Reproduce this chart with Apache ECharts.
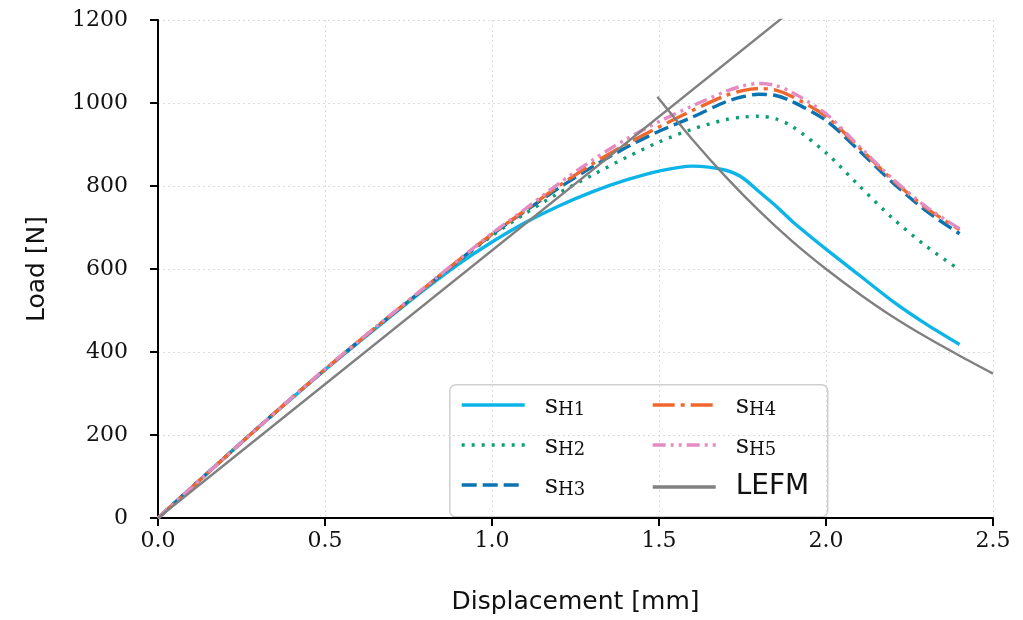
<!DOCTYPE html>
<html>
<head>
<meta charset="utf-8">
<script src="https://cdn.jsdelivr.net/npm/echarts@6/dist/echarts.min.js"></script>
<style>html,body{margin:0;padding:0;background:#fff;}#c{width:1023px;height:620px;}</style>
</head>
<body>
<div id="c"></div>
<script>
// ---- data ----
const xDisp = [0, 0.1, 0.2, 0.3, 0.4, 0.5, 0.6, 0.7, 0.8, 0.9, 1.0, 1.1, 1.2, 1.3, 1.4, 1.5, 1.6, 1.7, 1.75, 1.8, 1.85, 1.9, 2.0, 2.1, 2.2, 2.3, 2.4];
const sH1 = [0, 73, 146, 218, 288, 357, 423, 488, 552, 612, 665, 712, 752, 786, 814, 836, 848, 838, 820, 786, 752, 714, 648, 585, 522, 467, 418];
const sH2 = [0, 73, 146, 218, 289, 358, 425, 490, 555, 619, 680, 734, 783, 826, 868, 906, 937, 960, 966, 968, 962, 943, 880, 800, 722, 655, 598];
const sH3 = [0, 73, 146, 218, 289, 358, 425, 490, 555, 620, 683, 740, 795, 846, 892, 932, 966, 1003, 1015, 1021, 1018, 1003, 958, 885, 808, 740, 685];
const sH4 = [0, 73, 146, 218, 289, 358, 425, 491, 556, 621, 684, 742, 800, 853, 900, 942, 982, 1018, 1030, 1035, 1031, 1015, 968, 892, 814, 747, 695];
const sH5 = [0, 73, 146, 218, 289, 359, 426, 492, 557, 622, 686, 745, 806, 862, 912, 955, 993, 1028, 1041, 1047, 1042, 1025, 974, 895, 817, 750, 697];
const lefmLinX = [0, 1.9];
const lefmLinY = [0, 1225];
const lefmDecX = [1.495, 1.6, 1.7, 1.8, 1.9, 2.0, 2.1, 2.2, 2.3, 2.4, 2.5];
const lefmDecY = [1015, 912, 822, 740, 666, 600, 540, 485, 436, 391, 348];
const xTicks = [0, 0.5, 1.0, 1.5, 2.0, 2.5];
const yTicks = [0, 200, 400, 600, 800, 1000, 1200];

const names = ['sH1', 'sH2', 'sH3', 'sH4', 'sH5'];
const colors = ['#0db4e8', '#0c9e74', '#0b73b2', '#ef672c', '#e48cc2'];
const dashes = ['solid', [3, 7], [15, 6], [22, 6, 4, 6], [13, 5, 3, 5, 3, 5]];
const values = [sH1, sH2, sH3, sH4, sH5];
const pairs = (xs, ys) => xs.map((x, i) => [x, ys[i]]);

const serif = '"DejaVu Serif", serif';
const sans = '"DejaVu Sans", sans-serif';

const series = names.map((n, i) => ({
  name: n, type: 'line', data: pairs(xDisp, values[i]), smooth: 0.3,
  showSymbol: false, symbol: 'none', z: 2 + i,
  lineStyle: { color: colors[i], width: 3.4, type: dashes[i] },
  itemStyle: { color: colors[i] }
}));
series.push({
  name: 'LEFM', type: 'line', data: pairs(lefmLinX, lefmLinY), showSymbol: false, symbol: 'none', z: 10,
  lineStyle: { color: '#808080', width: 2.4 }, itemStyle: { color: '#808080' }
});
series.push({
  name: 'LEFM', type: 'line', data: pairs(lefmDecX, lefmDecY), smooth: 0.3, showSymbol: false, symbol: 'none', z: 10,
  lineStyle: { color: '#808080', width: 2.4 }, itemStyle: { color: '#808080' }
});

const legendText = {
  fontSize: 26,
  rich: {
    s: { fontFamily: serif, fontSize: 26, lineHeight: 28, verticalAlign: 'bottom', color: '#111' },
    sub: { fontFamily: serif, fontSize: 18, lineHeight: 12, verticalAlign: 'bottom', color: '#111' },
    l: { fontFamily: sans, fontSize: 28, lineHeight: 28, color: '#111' }
  },
  padding: [0, 0, 0, 15]
};
const fmt = n => n === 'LEFM' ? '{l|LEFM}' : '{s|s}{sub|' + n.slice(1) + '}';
const legendCommon = {
  orient: 'vertical', itemWidth: 63, itemHeight: 14, itemGap: 14, padding: 0,
  formatter: fmt, textStyle: legendText, backgroundColor: 'transparent',
  itemStyle: { opacity: 0, borderWidth: 0 },
  lineStyle: { width: 3.4 }
};

const chart = echarts.init(document.getElementById('c'), null, { renderer: 'canvas' });
chart.setOption({
  animation: false,
  backgroundColor: '#fff',
  grid: { left: 158, right: 30, top: 20, bottom: 99, containLabel: false },
  xAxis: {
    type: 'value', min: 0, max: 2.5, interval: 0.5,
    name: 'Displacement [mm]', nameLocation: 'middle', nameGap: 72,
    nameTextStyle: { fontFamily: sans, fontSize: 25, color: '#111' },
    axisLine: { lineStyle: { color: '#000', width: 2 } },
    axisTick: { show: true, length: 8, lineStyle: { color: '#000', width: 2 } },
    axisLabel: { fontFamily: serif, fontSize: 22, color: '#111', margin: 12,
      formatter: v => v.toFixed(1) },
    splitLine: { show: true, lineStyle: { color: '#dcdcdc', width: 1, type: [2, 3] } }
  },
  yAxis: {
    type: 'value', min: 0, max: 1200, interval: 200,
    name: 'Load [N]', nameLocation: 'middle', nameGap: 108, nameRotate: 90,
    nameTextStyle: { fontFamily: sans, fontSize: 25, color: '#111' },
    axisLine: { show: true, lineStyle: { color: '#000', width: 2 } },
    axisTick: { show: true, length: 8, lineStyle: { color: '#000', width: 2 } },
    axisLabel: { fontFamily: serif, fontSize: 22, color: '#111', margin: 30,
      formatter: v => String(v) },
    splitLine: { show: true, lineStyle: { color: '#dcdcdc', width: 1, type: [2, 3] } }
  },
  legend: [
    Object.assign({}, legendCommon, { left: 460, top: 393, data: ['sH1', 'sH2', 'sH3'] }),
    Object.assign({}, legendCommon, { left: 651, top: 393, data: ['sH4', 'sH5', 'LEFM'] })
  ],
  graphic: [{
    type: 'rect', left: 449, top: 384, z: 0,
    shape: { width: 378, height: 132, r: 6 },
    style: { fill: 'rgba(255,255,255,0.85)', stroke: '#d0d0d0', lineWidth: 1.5 }
  }],
  series: series
});
</script>
</body>
</html>
